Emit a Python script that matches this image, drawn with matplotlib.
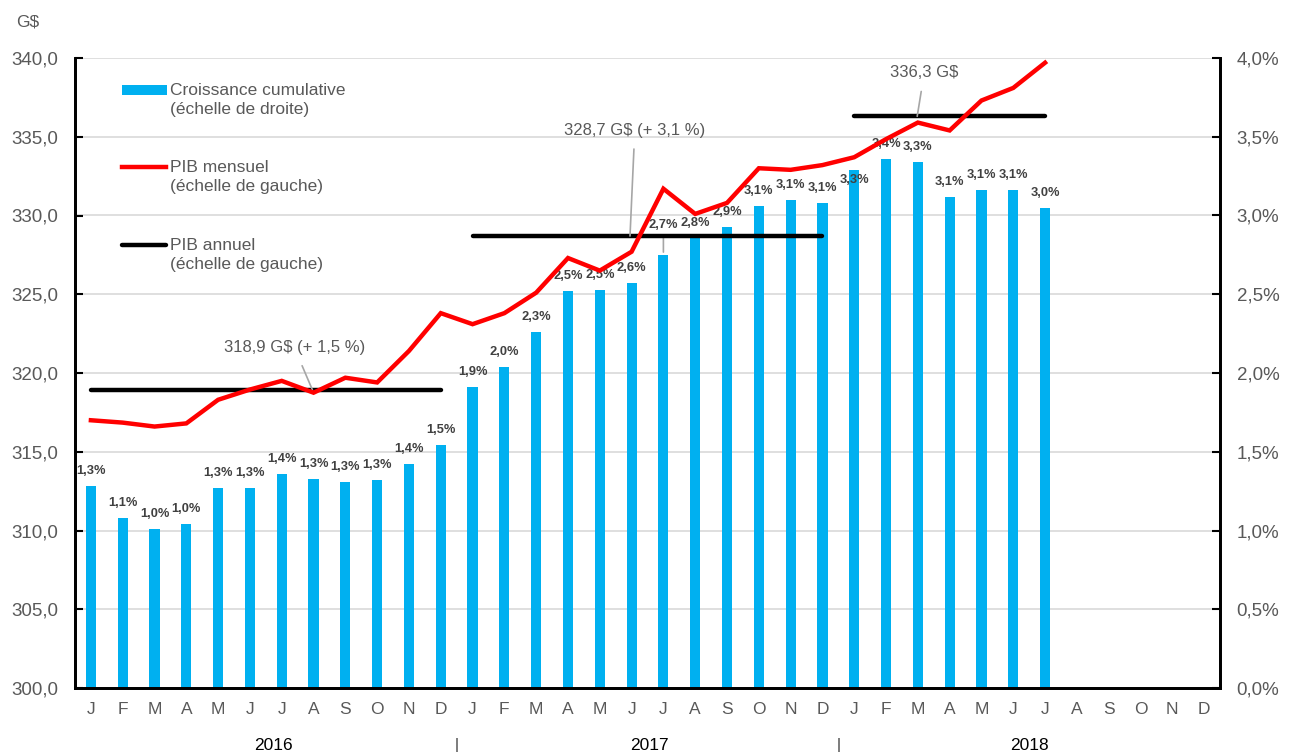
import matplotlib
matplotlib.use("Agg")
import matplotlib.pyplot as plt
from matplotlib.patches import Rectangle
from matplotlib.lines import Line2D

plt.rcParams['font.family'] = ['Liberation Sans', 'DejaVu Sans']

months = ["J", "F", "M", "A", "M", "J", "J", "A", "S", "O", "N", "D"] * 3
years = ["2016", "2017", "2018"]

growth = [1.28, 1.08, 1.01, 1.04, 1.27, 1.27, 1.36, 1.33, 1.31, 1.32, 1.42, 1.54,
          1.91, 2.04, 2.26, 2.52, 2.53, 2.57, 2.75, 2.86, 2.93, 3.06, 3.10, 3.08,
          3.29, 3.36, 3.34, 3.12, 3.16, 3.16, 3.05]
growth_labels = ["1,3%", "1,1%", "1,0%", "1,0%", "1,3%", "1,3%", "1,4%", "1,3%", "1,3%", "1,3%", "1,4%", "1,5%",
                 "1,9%", "2,0%", "2,3%", "2,5%", "2,5%", "2,6%", "2,7%", "2,8%", "2,9%", "3,1%", "3,1%", "3,1%",
                 "3,3%", "3,4%", "3,3%", "3,1%", "3,1%", "3,1%", "3,0%"]
gdp_monthly = [317.0, 316.85, 316.6, 316.8, 318.3, 318.95, 319.5, 318.75, 319.7, 319.4, 321.4, 323.8,
               323.1, 323.8, 325.1, 327.3, 326.5, 327.7, 331.7, 330.1, 330.8, 333.0, 332.9, 333.2,
               333.7, 334.85, 335.9, 335.4, 337.3, 338.1, 339.7]
gdp_annual = [318.9, 328.7, 336.3]
annual_labels = ["318,9 G$ (+ 1,5 %)", "328,7 G$ (+ 3,1 %)", "336,3 G$"]
annual_start = [0, 12, 24]
annual_end = [11, 23, 30]

W, H = 1296, 756
fig = plt.figure(figsize=(W / 100, H / 100), dpi=100)
L, R, B, T = 75, 1220, 688, 58
ax = fig.add_axes([L / W, 1 - B / H, (R - L) / W, (B - T) / H])
ax2 = ax.twinx()

blue = "#00B0F0"
gray_txt = "#595959"

x = list(range(len(growth)))
ax.bar(x, growth, width=0.32, color=blue, zorder=2)
ax.set_ylim(0, 4)
ax.set_xlim(-0.5, 35.5)
ax.set_yticks([i * 0.5 for i in range(9)])
ax.set_yticklabels([f"{i*0.5:.1f}%".replace(".", ",") for i in range(9)])
ax.yaxis.tick_right()
ax.grid(axis='y', color="#d9d9d9", linewidth=1.2, zorder=0)
ax.set_axisbelow(True)

# bar labels
offsets = {18: 30, 24: -10}
for i, (v, lab) in enumerate(zip(growth, growth_labels)):
    off = offsets.get(i, 15)
    ax.annotate(lab, (i, v), xytext=(0, off * 0.72), textcoords='offset points',
                ha='center', va='center', fontsize=9.3, fontweight='bold', color="#404040", zorder=5)
# leader for Jul 2017 label
ax.annotate("", xy=(18, growth[18]), xytext=(18, growth[18] + 20 / 157.25),
            arrowprops=dict(arrowstyle='-', color="#a6a6a6", lw=1.2))

ax2.plot(x, gdp_monthly, color="#FF0000", lw=3.2, zorder=4, solid_joinstyle='miter')
for s, e, v in zip(annual_start, annual_end, gdp_annual):
    ax2.plot([s, e], [v, v], color="black", lw=3.2, solid_capstyle='round', zorder=3)
ax2.set_ylim(300, 340)
ax2.set_yticks(range(300, 341, 5))
ax2.set_yticklabels([f"{v:.1f}".replace(".", ",") for v in range(300, 341, 5)])
ax2.yaxis.tick_left()

# annotations for annual values
ann_text = [(6.4, 321.6), (17.1, 335.4), (26.2, 339.05)]
ann_pt = [(6.97, 318.9), (16.95, 328.7), (25.98, 336.3)]
for lab, (tx, ty), (px, py) in zip(annual_labels, ann_text, ann_pt):
    ax2.annotate(lab, xy=(px, py), xytext=(tx, ty), ha='center', va='center',
                 fontsize=12, color=gray_txt,
                 arrowprops=dict(arrowstyle='-', color="#a6a6a6", lw=1.2, shrinkA=6, shrinkB=0))

for a in (ax, ax2):
    a.spines['top'].set_visible(False)
    for sp in ('left', 'right', 'bottom'):
        a.spines[sp].set_linewidth(2)
        a.spines[sp].set_color('black')
    a.tick_params(axis='y', direction='in', length=6, width=1.5, labelsize=13.5,
                  labelcolor=gray_txt, pad=12)

ax.set_xticks(range(36))
ax.set_xticklabels(months)
ax.tick_params(axis='x', length=0, labelsize=12.5, labelcolor=gray_txt, pad=10)

# year labels and separators
year_pos = [5.75, 17.55, 29.5]
for xp, yl in zip(year_pos, years):
    ax.text(xp, -(745 - B) / (B - T), yl, transform=ax.get_xaxis_transform(), ha='center', va='center',
            fontsize=12.5, color="black")
for xp in [11.5, 23.5]:
    ax.text(xp, -(745 - B) / (B - T), "|", transform=ax.get_xaxis_transform(), ha='center', va='center',
            fontsize=11, color="#333333")

fig.text(28 / W, 1 - 22 / H, "G$", ha='center', va='center', fontsize=12.5, color=gray_txt)

# manual legend
def fx(px):
    return px / W

def fy(py):
    return 1 - py / H

leg_labels = ["Croissance cumulative\n(échelle de droite)",
              "PIB mensuel\n(échelle de gauche)",
              "PIB annuel\n(échelle de gauche)"]
leg_y = [90, 167, 245]
fig.add_artist(Rectangle((fx(122), fy(95)), fx(167) - fx(122), 10 / H, transform=fig.transFigure,
                         facecolor=blue, edgecolor='none', zorder=10))
fig.add_artist(Line2D([fx(122), fx(166)], [fy(leg_y[1])] * 2, transform=fig.transFigure,
                      color="#FF0000", lw=3.2, zorder=10))
fig.add_artist(Line2D([fx(122), fx(166)], [fy(leg_y[2])] * 2, transform=fig.transFigure,
                      color="black", lw=3.2, solid_capstyle='round', zorder=10))
for yy, lab in zip(leg_y, leg_labels):
    fig.text(fx(170), fy(yy + 10), lab, ha='left', va='center', fontsize=12.5, color=gray_txt,
             linespacing=1.4, zorder=10)

fig.savefig("out.png", dpi=100)
